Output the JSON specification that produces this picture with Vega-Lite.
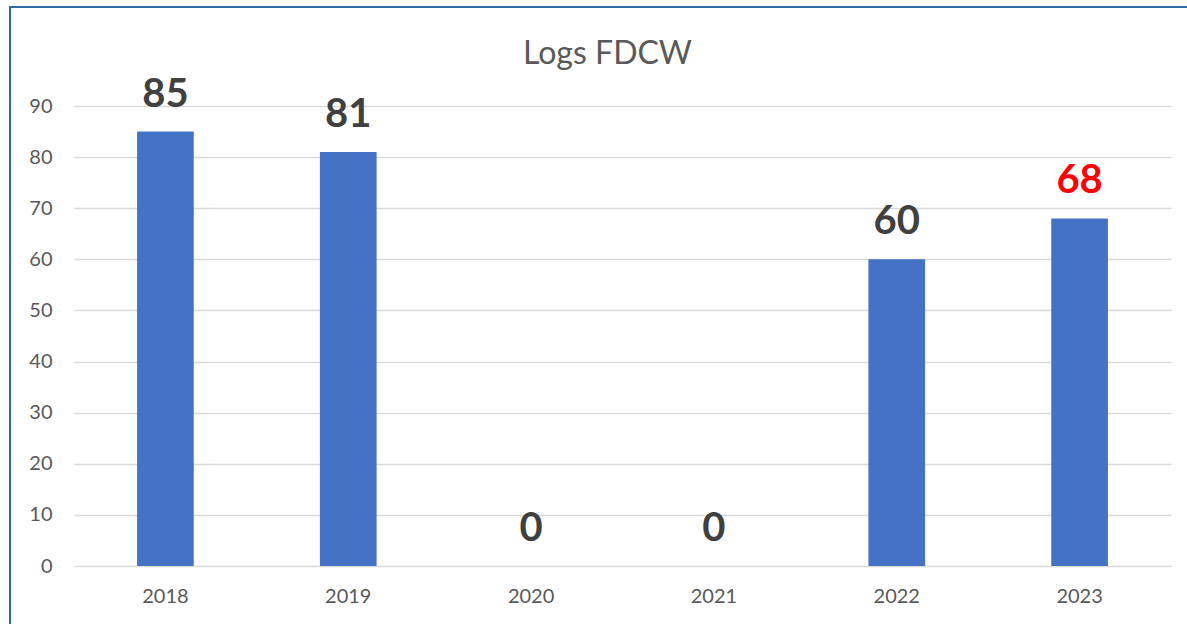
{
  "$schema": "https://vega.github.io/schema/vega-lite/v6.json",
  "autosize": {"type": "none"},
  "width": 1185,
  "height": 625,
  "padding": {"left": 10, "top": 7, "right": -8, "bottom": -8},
  "background": "white",
  "config": {
    "view": {"stroke": "#2E6DA4", "strokeWidth": 2},
    "font": "Lato"
  },
  "title": {
    "text": "Logs FDCW",
    "fontSize": 32,
    "font": "Lato",
    "fontWeight": "normal",
    "color": "#595959",
    "offset": -89,
    "baseline": "alphabetic",
    "anchor": "middle",
    "dx": 5
  },
  "data": {
    "values": [
      {"year": "2018", "value": 85},
      {"year": "2019", "value": 81},
      {"year": "2020", "value": 0},
      {"year": "2021", "value": 0},
      {"year": "2022", "value": 60},
      {"year": "2023", "value": 68}
    ]
  },
  "encoding": {
    "x": {
      "field": "year",
      "type": "nominal",
      "sort": null,
      "scale": {"range": [64, 1161], "paddingInner": 0.69, "paddingOuter": 0.345},
      "axis": {
        "title": null,
        "offset": -66,
        "ticks": false,
        "domain": false,
        "grid": false,
        "labelAngle": 0,
        "labelPadding": 20,
        "labelFontSize": 20,
        "labelColor": "#595959",
        "labelFont": "Lato"
      }
    },
    "y": {
      "field": "value",
      "type": "quantitative",
      "scale": {"domain": [0, 90], "range": [559, 99], "nice": false},
      "axis": {
        "title": null,
        "offset": -64,
        "ticks": false,
        "domain": false,
        "values": [0, 10, 20, 30, 40, 50, 60, 70, 80, 90],
        "labelPadding": 22,
        "labelFontSize": 20,
        "labelColor": "#595959",
        "labelFont": "Lato",
        "grid": true,
        "gridColor": "#D9D9D9",
        "gridWidth": 1.5
      }
    }
  },
  "layer": [
    {"mark": {"type": "bar", "color": "#4472C4"}},
    {
      "mark": {"type": "text", "baseline": "alphabetic", "dy": -25, "fontSize": 40, "fontWeight": "bold", "font": "Lato"},
      "encoding": {
        "text": {"field": "value", "type": "quantitative"},
        "color": {
          "condition": {"test": "datum.year === '2023'", "value": "#FF0000"},
          "value": "#404040"
        }
      }
    }
  ]
}
